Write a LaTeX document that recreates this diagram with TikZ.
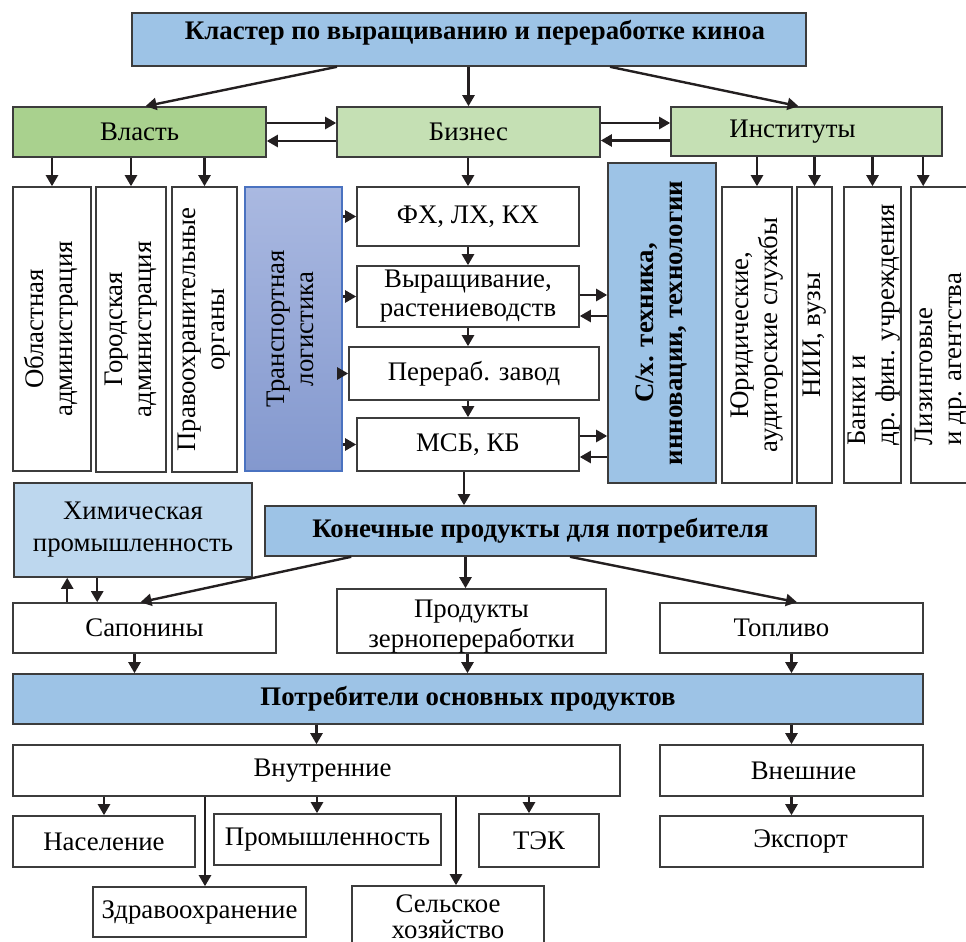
\documentclass[tikz,border=0pt]{standalone}
\usepackage{graphicx}
\usepackage{fontspec}
\setmainfont{Liberation Serif}
\usetikzlibrary{arrows.meta}

\definecolor{hdrblue}{HTML}{9DC3E6}
\definecolor{chemblue}{HTML}{BDD7EE}
\definecolor{powgreen}{HTML}{A9D18E}
\definecolor{bizgreen}{HTML}{C5E0B4}
\definecolor{logtop}{HTML}{AAB9E1}
\definecolor{logbot}{HTML}{8398CE}
\definecolor{logline}{HTML}{4A72C0}
\definecolor{boxline}{HTML}{3C3C3C}
\definecolor{arrline}{HTML}{231F20}

\tikzset{
  box/.style={draw=boxline, line width=0.8pt, fill=white, inner sep=0pt, align=center,
    font=\fontsize{13.4}{14.5}\selectfont},
  head/.style={box, fill=hdrblue, font=\fontsize{13.4}{14.5}\selectfont\bfseries},
  sz/.style 2 args={minimum width=#1*0.5pt, minimum height=#2*0.5pt},
  vtxt/.style={inner sep=0pt, anchor=south west, font=\fontsize{13.4}{14.5}\selectfont},
  arr/.style={draw=arrline, line width=1.2pt, -{Triangle[length=5.5pt,width=6pt]}},
}
\newcommand{\vlabel}[1]{\rotatebox{90}{\begin{tabular}{@{}c@{}}#1\end{tabular}}}
\newcommand{\vlabelL}[1]{\rotatebox{90}{\begin{tabular}{@{}l@{}}#1\end{tabular}}}

\begin{document}
\begin{tikzpicture}[x=0.5pt, y=-0.5pt]
	\useasboundingbox (0,0) rectangle (966,942);
	% top
	\node[head, sz={674}{53}, text height=9pt, text depth=9pt] (title) at (469,39.5) {\hspace*{6pt}Кластер по выращиванию и переработке киноа};
	\node[box, fill=powgreen, sz={253}{50}] (vlast) at (139.5,132) {Власть};
	\node[box, fill=bizgreen, sz={263}{50}] (biz) at (468.5,132) {Бизнес};
	\node[box, fill=bizgreen, sz={271}{49}] (inst) at (806.5,131.5) {Институты\hspace*{14pt}};
	% vertical boxes
	\node[box, sz={78}{284}] (oblast) at (52,329) {\vlabel{Областная\\администрация}};
	\node[box, sz={70}{285}] (city) at (131,329.5) {\vlabel{Городская\\администрация}};
	\node[box, sz={65}{285}] (police) at (204.5,329.5) {\vlabel{Правоохранительные\\органы}};
	\node[box, draw=logline, top color=logtop, bottom color=logbot, sz={97}{284}] (logist) at (293.5,329) {\vlabel{Транспортная\\логистика}};
	\node[box, sz={222}{59}] (fx) at (468,216.5) {ФХ, ЛХ, КХ};
	\node[box, sz={222}{61}] (grow) at (468,296.5) {Выращивание,\\растениеводств};
	\node[box, sz={250}{53}] (proc) at (474,373.5) {Перераб. завод};
	\node[box, sz={222}{53}] (msb) at (468,444.5) {МСБ, КБ};
	\node[head, sz={108}{320}] (tech) at (662,323) {\vlabel{С/х. техника,\\инновации, технологии}};
	\node[box, sz={70}{296}] (jur) at (757,335) {\vlabel{Юридические,\\аудиторские службы}};
	\node[box, sz={35}{296}] (nii) at (814.5,335) {\vlabel{НИИ, вузы}};
	\node[box, sz={57}{296}] (bank) at (872.5,335) {};
	\node[box, sz={89}{296}] (lease) at (955.5,335) {};
	\node[vtxt] (banktxt) at ([xshift=1pt, yshift=19pt]bank.south west) {\vlabelL{Банки и\\др. фин. учреждения}};
	\node[vtxt] (leasetxt) at ([xshift=1pt, yshift=19pt]lease.south west) {\vlabelL{Лизинговые\\и др. агентства}};
	% products
	\node[box, fill=chemblue, sz={238}{94}, font=\fontsize{13.4}{16}\selectfont] (chem) at (133,530) {Химическая\\промышленность};
	\node[head, sz={551}{50}] (final) at (540.5,531) {Конечные продукты для потребителя};
	\node[box, sz={263}{50}] (sap) at (144.5,628) {Сапонины};
	\node[box, sz={269}{64}, font=\fontsize{13.4}{15}\selectfont] (grain) at (471.5,621) {\rule{0pt}{14pt}Продукты\\зернопереработки};
	\node[box, sz={263}{50}] (fuel) at (791.5,628) {Топливо\hspace*{10pt}};
	% consumers
	\node[head, sz={910}{50}] (cons) at (468,699) {Потребители основных продуктов};
	\node[box, sz={607}{51}] (inner) at (316.5,770.5) {\hspace*{6pt}Внутренние};
	\node[box, sz={263}{51}] (outer) at (791.5,770.5) {\hspace*{12pt}Внешние};
	\node[box, sz={182}{51}] (pop) at (104,841.5) {Население};
	\node[box, sz={227}{51}] (ind) at (327.5,839.5) {Промышленность};
	\node[box, sz={120}{53}] (tek) at (539,840.5) {ТЭК};
	\node[box, sz={263}{51}] (exp) at (791.5,841.5) {\hspace*{9pt}Экспорт};
	\node[box, sz={213}{50}] (health) at (199.5,912) {Здравоохранение};
	\node[box, sz={192}{62}, font=\fontsize{13.4}{13}\selectfont] (agri) at (448,917) {Сельское\\хозяйство};

	\draw[arr] ([xshift=-66pt]title.south) -- ([xshift=3pt]vlast.north);
	\draw[arr] (biz.north |- title.south) -- (biz.north);
	\draw[arr] ([xshift=70.5pt]title.south) -- ([xshift=-4pt]inst.north);
	\draw[arr] ([yshift=4.5pt]vlast.east) -- ([yshift=4.5pt]vlast.east -| biz.west);
	\draw[arr] ([yshift=-4.5pt]biz.west) -- ([yshift=-4.5pt]biz.west -| vlast.east);
	\draw[arr] ([yshift=4.5pt]biz.east) -- ([yshift=4.5pt]biz.east -| inst.west);
	\draw[arr] ([yshift=-4.5pt]inst.west) -- ([yshift=-4.5pt]inst.west -| biz.east);
	\foreach \n in {oblast, city, police}
		\draw[arr] (vlast.south -| \n.north) -- (\n.north);
	\foreach \n in {jur, nii, bank}
		\draw[arr] (inst.south -| \n.north) -- (\n.north);
	\draw[arr] ([xshift=6.5pt]lease.north west |- inst.south) -- ([xshift=6.5pt]lease.north west);
	% business chain
	\draw[arr] (fx.north |- biz.south) -- (fx.north);
	\draw[arr] (fx.south) -- (grow.north);
	\draw[arr] (grow.south) -- (grow.south |- proc.north);
	\draw[arr] (proc.south -| msb.north) -- (msb.north);
	\draw[arr] ([xshift=-2pt]msb.south) -- ([xshift=-2pt]msb.south |- final.north);
	\foreach \n in {fx, grow, proc, msb}
		\draw[arr] (logist.east |- \n.west) -- (\n.west);
	\draw[arr] ([yshift=0.75pt]grow.east) -- ([yshift=0.75pt]grow.east -| tech.west);
	\draw[arr] ([yshift=-9.75pt]grow.east -| tech.west) -- ([yshift=-9.75pt]grow.east);
	\draw[arr] ([yshift=4.25pt]msb.east) -- ([yshift=4.25pt]msb.east -| tech.west);
	\draw[arr] ([yshift=-6.25pt]msb.east -| tech.west) -- ([yshift=-6.25pt]msb.east);
	% products
	\draw[arr] ([xshift=43.5pt]final.south west) -- ([xshift=-2pt]sap.north);
	\draw[arr] ([xshift=-3pt]grain.north |- final.south) -- ([xshift=-3pt]grain.north);
	\draw[arr] ([xshift=14.75pt]final.south) -- ([xshift=2.75pt]fuel.north);
	\draw[arr] ([xshift=27.5pt]sap.north west) -- ([xshift=27.5pt]sap.north west |- chem.south);
	\draw[arr] ([xshift=42.5pt]sap.north west |- chem.south) -- ([xshift=42.5pt]sap.north west);
	\draw[arr] ([xshift=-5pt]sap.south) -- ([xshift=-5pt]sap.south |- cons.north);
	\draw[arr] ([xshift=-2pt]grain.south) -- ([xshift=-2pt]grain.south |- cons.north);
	\draw[arr] (fuel.south) -- (fuel.south |- cons.north);
	% consumers
	\draw[arr] (inner.north |- cons.south) -- (inner.north);
	\draw[arr] (outer.north |- cons.south) -- (outer.north);
	\foreach \n/\dx in {pop/0, health/2.75, ind/-5.25, agri/4, tek/-5}
		\draw[arr] ([xshift=\dx pt]\n.north |- inner.south) -- ([xshift=\dx pt]\n.north);
	\draw[arr] (outer.south) -- (exp.north);
\end{tikzpicture}
\end{document}
